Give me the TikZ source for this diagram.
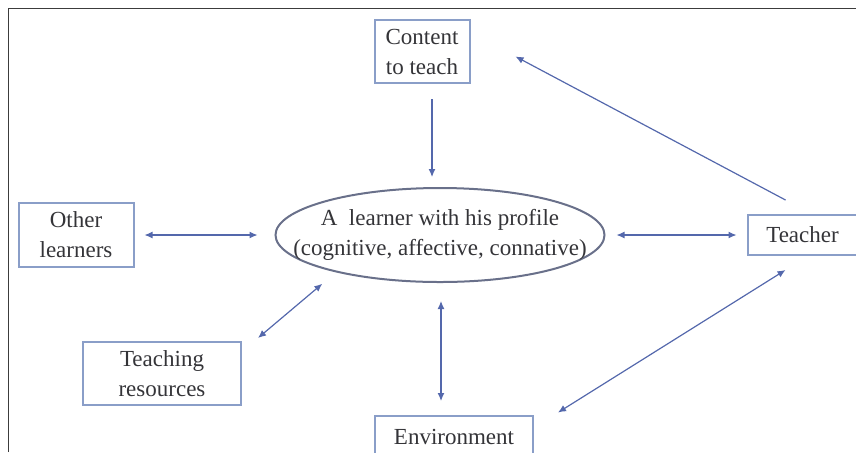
\documentclass[tikz,border=0pt]{standalone}
\usepackage{fontspec}
\setmainfont{Liberation Serif}
\usepackage{xcolor}
\usepackage{tikz}
\usetikzlibrary{arrows.meta,positioning,shapes.geometric}
\definecolor{cvbox}{RGB}{138,158,200}
\definecolor{cvell}{RGB}{105,112,138}
\definecolor{cvarr}{RGB}{84,104,172}
\definecolor{cvtxt}{RGB}{52,52,56}
\definecolor{cvfrm}{RGB}{60,60,60}

\begin{document}
\begin{tikzpicture}[
  font=\fontsize{11.5}{15}\selectfont,
  box/.style={draw=cvbox, line width=1pt, align=center, text=cvtxt, inner sep=2pt},
  flow/.style={-{Latex[length=4pt,width=3.5pt]}, cvarr, line width=0.6pt},
  mutual/.style={{Latex[length=4pt,width=3.5pt]}-{Latex[length=4pt,width=3.5pt]}, cvarr, line width=0.6pt}
]
\useasboundingbox (0,0) rectangle (428pt,-226pt);
\draw[cvfrm, line width=0.5pt] (4pt,-226pt) -- (4pt,-4pt) -- (428pt,-4pt);

\node[ellipse, draw=cvell, line width=1pt, text=cvtxt, align=center,
      minimum width=164.5pt, minimum height=47pt, inner xsep=-20pt, inner ysep=0pt] (learner)
  at (220pt,-117.5pt) {A\ \ learner with his profile\\(cognitive, affective, connative)};
\node[box, minimum width=47.5pt, minimum height=31.5pt, above=51.5pt of learner, xshift=-9pt]
  (content) {Content\\to teach};
\node[box, minimum width=57.5pt, minimum height=32pt, left=70pt of learner]
  (others) {Other\\learners};
\node[box, minimum width=55pt, minimum height=20pt, right=70.5pt of learner]
  (teacher) {Teacher};
\node[box, minimum width=79pt, minimum height=31.5pt, below left=29pt and 99pt of learner.south]
  (resources) {Teaching\\resources};
\node[box, minimum width=79pt, minimum height=20.5pt, below=66pt of learner, xshift=7pt]
  (environment) {Environment};

\draw[flow] ([xshift=5pt,yshift=-7.5pt]content.south) -- ([xshift=-4pt,yshift=5pt]learner.north);
\draw[flow] ([xshift=-8.5pt,yshift=7pt]teacher.north) -- ([xshift=22.5pt,yshift=-2.5pt]content.east);
\draw[mutual] ([xshift=5pt]others.east) -- ([xshift=-8.5pt]learner.west);
\draw[mutual] ([xshift=5.5pt]learner.east) -- ([xshift=-5pt]teacher.west);
\draw[mutual] ([xshift=8pt,yshift=1.5pt]resources.north east) -- ([yshift=-7.5pt]learner.196);
\draw[mutual] ([xshift=0.5pt,yshift=-9pt]learner.south) -- ([xshift=-6.5pt,yshift=7pt]environment.north);
\draw[mutual] ([xshift=-8.5pt,yshift=-7pt]teacher.south) -- ([xshift=12pt,yshift=12pt]environment.east);
\end{tikzpicture}
\end{document}
